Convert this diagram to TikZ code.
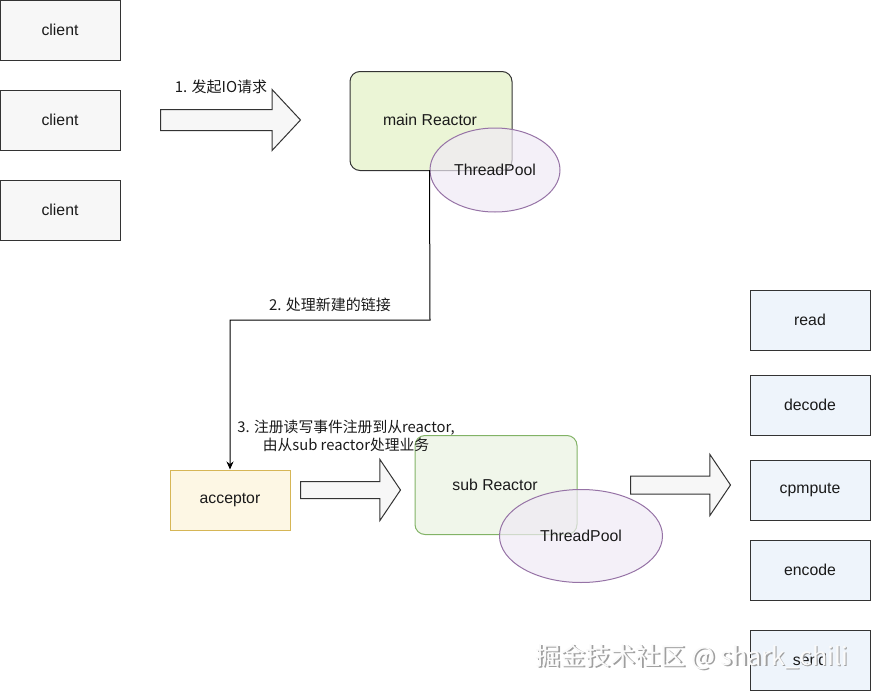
\documentclass[tikz,border=0pt]{standalone}
\usepackage{fontspec}
\setmainfont{Liberation Sans}
\newfontfamily\cjk{Noto Sans CJK SC}
\usetikzlibrary{shapes.arrows,shapes.geometric,arrows.meta}
\definecolor{linegray}{HTML}{333333}
\definecolor{txt}{HTML}{1A1A1A}
\definecolor{clientfill}{HTML}{F7F7F7}
\definecolor{mainfill}{HTML}{EBF5D6}
\definecolor{subfill}{HTML}{EEF5E8}
\definecolor{substroke}{HTML}{82B366}
\definecolor{poolstroke}{HTML}{9673A6}
\definecolor{poolfill}{HTML}{F0EAF5}
\definecolor{accstroke}{HTML}{D6B656}
\definecolor{accfill}{HTML}{FDF7E4}
\definecolor{bluefill}{HTML}{EEF4FB}
\definecolor{arrowfill}{HTML}{F7F7F7}
\begin{document}
\begin{tikzpicture}[x=1pt,y=-1pt,
  nodetext/.style={text=txt,font=\fontsize{15.8}{19}\selectfont},
  box/.style={nodetext,draw=linegray,line width=1pt,minimum width=120pt,minimum height=60pt,inner sep=0pt},
  clientbox/.style={box,fill=clientfill},
  taskbox/.style={box,fill=bluefill},
  accbox/.style={box,draw=accstroke,fill=accfill},
  reactor/.style={nodetext,rounded corners=10pt,line width=1pt,minimum width=162pt,minimum height=99pt,inner sep=0pt},
  pool/.style={nodetext,ellipse,draw=poolstroke,fill=poolfill,fill opacity=0.7,text opacity=1,line width=1pt,inner sep=0pt},
  bigarrow/.style={single arrow,draw=linegray,fill=arrowfill,line width=1pt,inner xsep=0pt,minimum width=60pt,anchor=tail},
  lbl/.style={text=txt,font=\cjk\fontsize{15}{18}\selectfont,inner sep=1pt},
  conn/.style={draw=black,line width=1pt,-{Stealth[length=8pt,width=7pt]}},
]
\useasboundingbox (0,0) rectangle (871,691);

% clients
\node[clientbox] (c1) at (60,30) {client};
\node[clientbox] (c2) at (60,120) {client};
\node[clientbox] (c3) at (60,210) {client};

% arrow 1
\node[bigarrow,inner ysep=10pt,single arrow head extend=20pt,single arrow tip angle=94,minimum height=140pt] (a1) at (160,120) {};
\node[lbl] (l1) at (221,87) {1. 发起IO请求};

% main reactor
\node[reactor,draw=linegray,fill=mainfill] (mr) at (431,121) {};
\node[nodetext] (mrt) at (430,120) {main Reactor};
\node[pool,minimum width=130pt,minimum height=84pt] (tp1) at (495,170) {ThreadPool};

% acceptor
\node[accbox] (acc) at (230,500) {acceptor};

% connector 2
\coordinate (bend) at (430,320);
\draw[conn] (tp1.west) -- (bend) -| (acc.north);
\node[lbl] (l2) at (330,305) {2. 处理新建的链接};

% arrow 2
\node[bigarrow,inner ysep=8pt,single arrow head extend=22pt,single arrow tip angle=112,minimum height=100pt] (a2) at (300,490) {};

% sub reactor
\node[reactor,draw=substroke,fill=subfill,fill opacity=0.9] (sr) at (496,485) {};
\node[nodetext] (srt) at (495,485) {sub Reactor};
\node[pool,minimum width=163pt,minimum height=93pt] (tp2) at (581,536) {ThreadPool};

% label 3
\node[lbl,align=center,font=\cjk\fontsize{14.8}{18}\selectfont] (l3) at (346,436) {3. 注册读写事件注册到从reactor,\\由从sub reactor处理业务};

% arrow 3
\node[bigarrow,inner ysep=8.5pt,single arrow head extend=21.5pt,single arrow tip angle=112,minimum height=100pt] (a3) at (630,485) {};

% task boxes
\node[taskbox] (t1) at (810,320) {read};
\node[taskbox] (t2) at (810,405) {decode};
\node[taskbox] (t3) at (810,490) {cpmpute};
\node[taskbox] (t4) at (810,570) {encode};
\node[taskbox] (t5) at (810,660) {send};

% watermark
\node[text=gray!75,font=\cjk\fontsize{25}{29}\selectfont,inner sep=0pt] (wms) at (693.5,658.5) {掘金技术社区 @ shark\_chili};
\node[text=white!96!gray,font=\cjk\fontsize{25}{29}\selectfont,inner sep=0pt] (wm) at (692,657) {掘金技术社区 @ shark\_chili};
\end{tikzpicture}
\end{document}
